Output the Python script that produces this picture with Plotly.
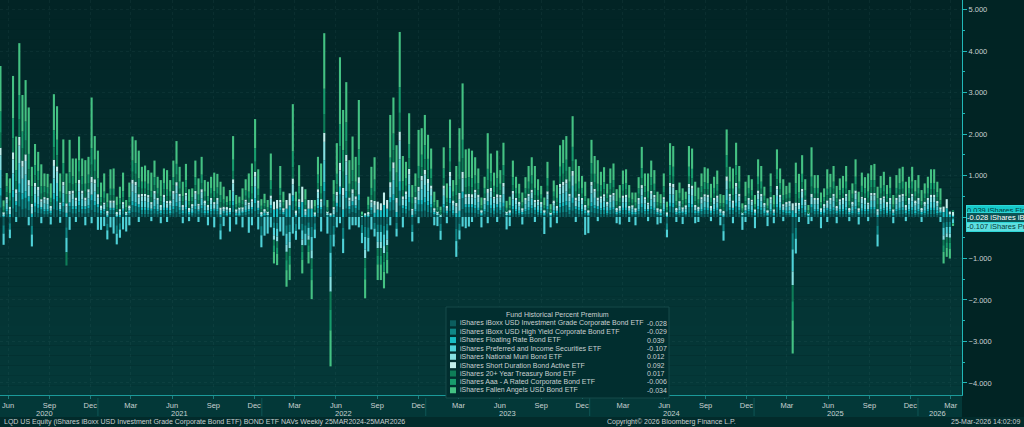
import pandas as pd
import plotly.graph_objects as go

# Weekly fund premium to NAV, hundredths of a percent
# (one value per week, first week 29-May-2020, last week 20-Mar-2026)
LQD = [22,-20,6,-15,20,12,25,18,20,16, -21,11,9,8,6,6,5,18,16,6, 11,-25,11,8,8,12,8,8,9,17,
       12,10,5,6,-16,7,7,-20,-15,6, 2,5,12,11,10,7,7,7,6,8, 6,5,7,7,5,8,11,7,5,8,
       4,4,8,6,9,5,5,6,6,6, -16,4,3,4,12,3,3,4,5,6, 8,14,7,-22,3,2,9,-13,-14,7,
       4,-20,-18,16,-17,8,-16,-20,-13,-24, -15,9,8,27,2,-43,-21,11,23,-26, 20,8,12,9,17,-19,-24,-25,7,-14,
       -18,-18,-21,-16,15,17,-14,27,9,8, 15,-18,6,13,13,15,12,10,4,2, -16,10,5,14,5,-29,-16,19,10,10,
       10,9,7,3,6,12,9,6,10,7, 11,2,3,8,6,5,4,6,7,9, 7,5,5,3,8,2,5,5,10,11,
       12,7,15,8,7,6,5,3,11,9, 8,7,7,5,7,8,4,5,7,7, 5,4,4,6,10,6,6,8,7,4,
       3,6,-15,11,10,4,5,4,4,10, 10,5,4,6,7,7,5,6,7,3, -17,13,7,7,11,7,2,5,6,5,
       3,8,7,4,3,6,3,10,7,5, 5,5,-39,-26,6,9,5,2,10,6, 6,4,4,7,6,7,5,6,6,7,
       4,5,8,4,6,6,6,8,8,-21, 6,7,5,6,3,6,7,7,5,6, 7,5,6,4,5,6,7,7,5,4, -13,-12,-12,-2.8]
HYG = [29,-20,8,-15,27,16,34,24,26,21, -21,14,13,10,8,8,6,24,21,8, 15,-25,15,11,11,16,11,11,12,23,
       16,13,7,8,-16,9,9,-20,-15,9, 3,7,16,15,13,10,10,9,9,11, 8,7,9,9,7,11,15,10,7,10,
       5,6,11,7,12,7,7,8,9,8, -16,6,4,5,16,4,4,6,7,8, 10,19,9,-22,4,3,12,-13,-14,10,
       5,-20,-18,22,-16,10,-16,-20,-13,-24, -15,12,10,35,3,-43,-21,14,31,-26, 26,11,16,12,23,-19,-24,-25,10,-14,
       -18,-18,-21,-16,20,23,-14,36,12,11, 20,-18,8,17,17,20,16,13,5,3, -17,13,6,19,7,-29,-16,26,13,13,
       13,12,9,4,8,16,12,9,13,9, 14,3,4,11,8,6,5,8,10,12, 10,7,6,4,11,2,7,6,14,15,
       16,10,19,11,10,8,7,4,15,12, 11,9,10,6,9,10,5,6,9,9, 6,5,5,8,14,8,8,11,9,5,
       4,8,-15,14,14,5,7,6,5,14, 13,7,6,8,10,9,6,8,9,4, -17,17,10,9,14,10,3,7,8,7,
       4,11,10,6,4,8,4,13,9,7, 6,7,-39,-26,8,12,7,2,13,8, 8,5,6,9,8,10,6,7,8,10,
       5,6,11,5,9,8,8,10,10,-21, 8,9,6,8,4,8,9,10,7,8, 10,7,8,5,6,8,9,9,7,6, -13,-12,-12,-2.9]
FLOT = [18,3,5,7,17,10,21,15,16,13, 8,9,8,6,5,5,4,15,13,5, 9,10,9,7,7,10,7,7,7,14,
        10,8,4,5,4,6,6,3,5,5, 2,4,10,9,8,6,6,6,5,7, 5,4,6,6,4,7,9,6,4,6,
        3,3,7,5,7,4,4,5,5,5, 6,4,3,3,10,3,2,3,5,5, 6,12,6,3,3,2,8,18,20,6,
        3,20,28,14,4,6,36,5,20,20, 3,7,6,22,2,4,6,9,19,18, 16,7,10,7,14,1,4,3,6,10,
        18,16,29,20,12,14,12,22,7,7, 13,5,5,11,11,12,10,8,3,2, 2,8,4,12,4,9,15,16,8,8,
        8,7,6,2,5,10,8,5,8,6, 9,2,2,7,5,4,3,5,6,7, 6,5,4,2,7,2,4,4,9,9,
        10,6,12,7,6,5,4,2,9,7, 7,5,6,4,6,6,3,4,6,6, 4,3,3,5,8,5,5,7,6,3,
        3,5,3,9,9,3,4,3,3,9, 8,4,4,5,6,6,4,5,6,3, 4,11,6,6,9,6,2,4,5,5,
        3,7,6,4,2,5,3,8,6,5, 4,4,16,9,5,7,5,1,8,5, 5,3,3,6,5,6,4,5,5,6,
        3,4,7,3,5,5,5,6,6,5, 5,5,4,5,3,5,6,6,4,5, 6,4,5,3,4,5,6,6,4,3, 12,21,6,3.9]
PFF = [44,-27,13,-21,41,-12,50,35,40,-20, -29,21,19,-15,13,12,-18,36,32,-14, 22,-35,-31,17,-12,23,17,-20,17,-15,
       23,-31,-31,-22,-22,-25,-40,-26,-20,-30, -35,-20,23,22,-12,15,15,14,-10,16, 12,-15,14,-12,11,16,22,15,-15,15,
       -10,8,16,-12,17,11,-20,12,-25,12, -22,-22,6,-35,23,-18,6,-25,11,-38, -20,28,-30,-29,-45,-40,-25,-18,-19,-35,
       -45,-27,-24,-40,-22,-30,-22,-28,-18,-32, -21,17,-35,53,-40,-58,-29,-25,-15,-35, 39,-30,-20,-20,-25,-25,-31,-33,-30,-19,
       -24,-24,-28,-22,-20,35,-19,54,-25,16, 30,-23,13,-15,26,30,24,20,-20,-22, -22,20,-15,28,11,-38,-22,-23,-27,-23,
       -12,17,14,-25,12,-15,18,13,-12,14, 21,-30,-22,16,12,10,-18,12,15,17, -12,11,9,-41,16,-25,11,-15,21,22,
       23,15,29,-12,15,12,-43,-39,22,18, -10,13,14,10,14,15,-15,-18,13,14, -12,7,-20,12,20,13,-10,16,14,-18,
       -15,13,-19,21,21,-12,10,-17,7,21, 20,-15,-12,13,14,14,-10,12,13,-20, -23,25,15,-15,21,15,-31,-12,12,11,
       -27,17,15,9,-22,13,-15,20,14,-10, 9,10,-53,-36,-12,18,11,-17,-10,12, 12,-27,8,-12,12,15,-15,11,12,15,
       -10,10,17,-18,13,12,-10,15,15,-29, 12,13,9,12,-15,12,14,15,-10,12, 15,11,12,-12,10,12,14,14,10,-12, -18,-15,-16,-10.7]
MUB = [36,5,11,12,34,19,42,29,33,26, 16,18,16,13,11,10,8,30,27,11, 19,15,19,14,14,19,14,14,15,29,
       20,16,8,11,7,12,12,6,9,11, 4,8,19,19,16,12,12,11,11,14, 10,9,12,11,9,14,18,12,9,13,
       7,7,14,9,15,9,9,10,11,10, 11,7,5,7,20,5,5,7,9,11, 13,24,12,6,6,4,15,-11,-12,12,
       6,-17,-15,27,8,13,-14,9,-11,-20, 5,15,13,44,4,-36,12,18,39,34, 33,14,19,15,28,2,-20,6,12,19,
       -15,-15,-17,-14,25,29,22,45,15,13, 25,10,11,21,21,25,20,17,6,4, 3,17,8,24,9,16,28,32,16,17,
       16,14,12,5,10,20,15,11,16,11, 18,4,5,14,10,8,6,10,12,14, 12,9,8,5,13,3,9,8,17,19,
       20,12,24,14,12,10,9,5,19,15, 14,11,12,8,12,13,7,8,11,12, 8,6,6,10,17,11,11,14,11,6,
       6,11,5,18,17,7,8,7,6,17, 17,9,7,11,12,12,8,10,11,6, 7,21,12,12,18,12,3,9,10,9,
       5,14,12,7,5,11,5,16,12,9, 8,8,-33,17,10,15,9,3,17,10, 10,6,7,12,10,12,8,9,10,12,
       7,8,14,6,11,10,11,13,13,9, 10,11,8,10,5,10,12,12,9,10, 12,9,10,7,8,10,12,12,9,7, -11,-10,-10,1.2]
NEAR = [18,3,5,6,17,10,21,15,16,13, 8,9,8,6,5,5,4,15,13,5, 9,8,9,7,7,10,7,7,7,14,
        10,8,4,5,4,6,6,3,5,5, 2,4,10,9,8,6,6,6,5,7, 5,4,6,6,4,7,9,6,4,6,
        3,3,7,5,7,4,4,5,5,5, 6,4,3,3,10,3,2,3,5,5, 6,12,6,3,3,2,8,19,21,6,
        3,21,29,14,4,6,37,5,21,21, 3,7,6,22,2,5,6,9,19,18, 16,7,10,7,14,1,5,3,6,10,
        19,17,30,21,12,14,12,22,7,7, 13,5,5,11,11,12,10,8,3,2, 2,8,4,12,4,9,15,16,8,8,
        8,7,6,2,5,10,8,5,8,6, 9,2,2,7,5,4,3,5,6,7, 6,5,4,2,7,2,4,4,9,9,
        10,6,12,7,6,5,4,2,9,7, 7,5,6,4,6,6,3,4,6,6, 4,3,3,5,8,5,5,7,6,3,
        3,5,3,9,9,3,4,3,3,9, 8,4,4,5,6,6,4,5,6,3, 4,11,6,6,9,6,2,4,5,5,
        3,7,6,4,2,5,3,8,6,5, 4,4,17,9,5,7,5,1,8,5, 5,3,3,6,5,6,4,5,5,6,
        3,4,7,3,5,5,5,6,6,5, 5,5,4,5,3,5,6,6,4,5, 6,4,5,3,4,5,6,6,4,3, 13,22,7,9.2]
TLT = [36,6,11,14,34,19,42,29,33,26, 18,18,16,13,11,10,8,30,27,11, 19,-32,19,14,14,19,14,14,15,29,
       20,16,8,11,9,12,12,7,11,11, 4,8,19,19,16,12,12,11,11,14, 10,9,12,11,9,14,18,12,9,13,
       7,7,14,9,15,9,9,10,11,10, 13,7,5,7,20,5,5,7,9,11, 13,24,12,6,6,4,15,-13,-14,12,
       6,-20,-18,27,9,13,-16,10,-13,-24, 6,15,13,44,4,-43,13,18,39,39, 33,14,19,15,28,2,-24,7,12,22,
       -18,-18,-21,-16,25,29,26,45,15,13, 25,12,11,21,21,25,20,17,6,4, 4,17,8,24,9,18,32,32,16,17,
       16,14,12,5,10,20,15,11,16,11, 18,4,5,14,10,8,6,10,12,14, 12,9,8,5,13,3,9,8,17,19,
       20,12,24,14,12,10,9,5,19,15, 14,11,12,8,12,13,7,8,11,12, 8,6,6,10,17,11,11,14,11,6,
       6,11,5,18,17,7,8,7,6,17, 17,9,7,11,12,12,8,10,11,6, 8,21,12,12,18,12,3,9,10,9,
       5,14,12,7,5,11,5,16,12,9, 8,8,-39,20,10,15,9,3,17,10, 10,6,7,12,10,12,8,9,10,12,
       7,8,14,6,11,10,11,13,13,11, 10,11,8,10,5,10,12,12,9,10, 12,9,10,7,8,10,12,12,9,7, -13,-12,-12,1.7]
QLTA = [51,8,15,19,48,27,59,41,46,37, 24,25,22,18,15,15,11,41,37,15, 26,22,26,20,20,27,20,19,20,40,
        27,22,12,15,11,16,16,10,15,15, 6,12,27,26,22,17,17,16,15,19, 14,12,16,16,12,19,26,17,12,18,
        9,10,19,13,20,12,12,14,15,15, 17,10,7,9,27,7,7,10,13,15, 18,33,16,9,8,6,21,-16,-16,17,
        9,-24,-21,38,12,18,-19,13,-16,-28, 8,20,18,62,6,-50,18,25,54,52, 45,19,27,20,39,3,-27,10,17,29,
        -21,-21,-24,-19,34,40,35,62,21,19, 35,15,15,29,30,34,28,23,9,6, 5,24,11,33,12,25,43,45,23,23,
        22,20,16,7,14,28,21,15,22,16, 25,5,7,19,14,11,8,13,17,20, 17,13,10,7,19,4,12,11,24,26,
        27,17,34,19,17,14,12,6,26,21, 19,15,17,11,16,18,9,11,16,16, 11,8,8,13,24,15,15,19,16,9,
        8,15,7,25,24,9,12,10,9,24, 23,12,10,15,17,16,11,14,16,8, 10,30,17,16,25,17,5,12,14,13,
        7,19,17,10,6,15,7,23,16,13, 10,12,-46,26,15,21,13,4,24,14, 14,8,10,16,15,17,10,13,14,17,
        9,11,19,9,15,13,15,18,18,15, 14,15,11,14,7,14,16,17,12,14, 17,12,14,9,11,14,16,16,12,10, -16,-13,-14,-0.6]
ANGL = [110,15,32,35,102,81,125,88,100,112, 47,51,46,53,31,33,35,87,81,44, 57,50,78,43,60,58,43,57,43,122,
        57,67,35,44,22,47,49,20,28,45, 18,35,58,55,67,36,39,33,45,40, 27,39,35,47,28,40,55,36,35,39,
        29,21,40,39,43,28,35,27,45,33, 32,31,14,27,57,23,15,29,27,44, 55,70,47,16,23,18,65,-28,-27,53,
        25,-40,-38,114,24,51,-33,25,-28,-46, 16,43,55,134,18,-87,34,74,161,97, 97,57,81,60,119,4,-46,20,51,54,
        -38,-38,-40,-33,103,87,66,133,61,39, 74,30,31,87,64,73,58,49,25,18, 9,51,35,69,28,46,81,136,69,69,
        67,44,35,19,27,86,47,32,67,33, 54,17,21,40,27,24,24,27,38,44, 53,27,21,19,39,13,27,31,52,56,
        57,36,74,59,38,29,35,18,56,43, 57,33,36,24,35,40,29,31,33,33, 31,17,24,27,51,31,44,40,33,25,
        22,31,14,53,50,27,25,29,18,50, 49,35,29,31,36,35,34,27,33,22, 20,62,36,49,54,38,13,35,31,27,
        23,42,38,22,18,31,23,49,35,38, 21,25,-80,50,45,45,27,13,71,31, 31,24,21,47,33,38,30,28,29,38,
        27,25,42,25,32,27,44,36,39,28, 29,33,22,27,23,31,35,36,35,27, 36,28,31,27,25,27,33,33,25,29, -28,-22,-24,-3.4]

FUND_NAMES = [
    "iShares iBoxx USD Investment Grade Corporate Bond ETF",
    "iShares iBoxx USD High Yield Corporate Bond ETF",
    "iShares Floating Rate Bond ETF",
    "iShares Preferred and Income Securities ETF",
    "iShares National Muni Bond ETF",
    "iShares Short Duration Bond Active ETF",
    "iShares 20+ Year Treasury Bond ETF",
    "iShares Aaa - A Rated Corporate Bond ETF",
    "iShares Fallen Angels USD Bond ETF",
]
LAST_VALUES = [-0.028, -0.029, 0.039, -0.107, 0.012, 0.092, 0.017, -0.006, -0.034]
SERIES = [LQD, HYG, FLOT, PFF, MUB, NEAR, TLT, QLTA, ANGL]
COLORS = ["#0b5d5e", "#0f8686", "#18bcc2", "#4fd2d8", "#86e0e2",
          "#c2efec", "#0e7d58", "#179c6c", "#44c283"]

weeks = pd.date_range("2020-05-29", periods=len(LQD), freq="7D")

W, H = 1024, 427
PL, PR, PT, PB = 0, 962, 0, 395        # plot area in pixels
FONT = "Liberation Sans Narrow, Liberation Sans, Arial, sans-serif"
FS = 7
TXT = "#c9d1d1"

def px(x):
    return (x - PL) / (PR - PL)

def py(y):
    return (PB - y) / (PB - PT)

def note(x, y, text, size=FS, xanchor="left", color=TXT, **kw):
    d = dict(x=x, y=y, text=text, showarrow=False, xanchor=xanchor, yanchor="middle",
             font=dict(size=size, color=color))
    d.setdefault("xref", "paper")
    d.setdefault("yref", "paper")
    d.update(kw)
    return d

fig = go.Figure()
for name, vals, col in zip(FUND_NAMES, SERIES, COLORS):
    fig.add_trace(go.Bar(x=weeks, y=[v / 100 for v in vals], name=name,
                         marker=dict(color=col, line=dict(width=0))))

shapes = []
# dark teal gradient behind the plot
n_bands = 40
top, bot = (2, 36, 37), (4, 57, 57)
for i in range(n_bands):
    t = i / (n_bands - 1)
    c = tuple(round(top[k] + (bot[k] - top[k]) * t) for k in range(3))
    shapes.append(dict(type="rect", xref="paper", yref="paper", layer="below",
                       x0=0, x1=1, y0=1 - (i + 1) / n_bands, y1=1 - i / n_bands,
                       fillcolor="rgb(%d,%d,%d)" % c, line=dict(width=0)))
# area under the time axis and footer strip
shapes.append(dict(type="rect", xref="paper", yref="paper", layer="below",
                   x0=0, x1=1, y0=py(427), y1=0, fillcolor="#033838", line=dict(width=0)))
shapes.append(dict(type="rect", xref="paper", yref="paper", layer="below",
                   x0=0, x1=px(W), y0=py(427), y1=py(417), fillcolor="#022b2b", line=dict(width=0)))
# year separators on the time axis
for yr in range(2021, 2027):
    shapes.append(dict(type="line", xref="x", yref="paper", x0=f"{yr}-01-01", x1=f"{yr}-01-01",
                       y0=py(416), y1=py(398), line=dict(color="#0f5656", width=1)))

annotations = []
# year labels under the month labels
YEAR_LABELS = ["2020", "2021", "2022", "2023", "2024", "2025", "2026"]
YEAR_POS = ["2020-09-05", "2021-07-01", "2022-07-01", "2023-07-01",
            "2024-07-01", "2025-07-01", "2026-02-14"]
for lab, pos in zip(YEAR_LABELS, YEAR_POS):
    annotations.append(note(pos, py(413), lab, size=FS + 0.5, xanchor="center", xref="x"))

# footer
annotations += [
    note(px(2), py(422), "LQD US Equity (iShares iBoxx USD Investment Grade Corporate Bond ETF) "
                         "BOND ETF NAVs Weekly 25MAR2024-25MAR2026"),
    note(px(605), py(422), "Copyright© 2026 Bloomberg Finance L.P."),
    note(px(1022), py(422), "25-Mar-2026 14:02:09", xanchor="right"),
]

# legend box drawn by hand (name column + last value column)
shapes.append(dict(type="rect", xref="paper", yref="paper", layer="above",
                   x0=px(446), x1=px(669), y0=py(398), y1=py(307),
                   fillcolor="#012e2f", line=dict(color="#174a4a", width=1)))
annotations.append(note(px(557), py(314), "Fund Historical Percent Premium", xanchor="center"))
for i, (name, val, col) in enumerate(zip(FUND_NAMES, LAST_VALUES, COLORS)):
    yc = 323.3 + i * 8.37
    shapes.append(dict(type="rect", xref="paper", yref="paper", layer="above",
                       x0=px(450), x1=px(456), y0=py(yc + 3), y1=py(yc - 3),
                       fillcolor=col, line=dict(width=0)))
    annotations.append(note(px(458), py(yc), name))
    annotations.append(note(px(645), py(yc), f"{val:.3f}"))

# last-value tags on the right axis (the middle one sits on top)
TAGS = [(2, 0.16, "#16c9cb", "#053c3c"), (3, -0.22, "#5fdfe0", "#053c3c"),
        (0, -0.02, "#0b5455", "#ffffff")]
for idx, ypos, bg, fc in TAGS:
    annotations.append(note(px(966), ypos, f"{LAST_VALUES[idx]:.3f} {FUND_NAMES[idx]}",
                            size=FS + 0.5, color=fc, yref="y", bgcolor=bg,
                            bordercolor="#2fd6d6", borderwidth=1, borderpad=0))

month_ticks = pd.date_range("2020-06-01", "2026-03-01", freq="3MS") + pd.Timedelta(days=14)

fig.update_layout(
    width=W, height=H, barmode="relative", bargap=0.33, showlegend=False,
    margin=dict(l=PL, r=W - PR, t=PT, b=H - PB, autoexpand=False),
    paper_bgcolor="#012424", plot_bgcolor="rgba(0,0,0,0)",
    font=dict(family=FONT, size=FS, color=TXT),
    shapes=shapes, annotations=annotations,
    xaxis=dict(type="date", range=["2020-05-28", "2026-04-09"],
               tickvals=list(month_ticks), ticktext=[d.strftime("%b") for d in month_ticks],
               ticks="outside", ticklen=3, tickcolor="#1d7c7c",
               tickfont=dict(size=FS + 0.5, color=TXT),
               showline=True, linecolor="#1b9a9a", linewidth=1,
               showgrid=True, gridcolor="rgba(150,200,200,0.06)", griddash="dot",
               zeroline=False, fixedrange=True),
    yaxis=dict(side="right", range=[-4.29, 5.23], tickvals=list(range(-4, 6)),
               tickformat=".3f", ticks="outside", ticklen=4, tickcolor="#21b8b8",
               minor=dict(dtick=0.5, ticks="outside", ticklen=2, tickcolor="#21b8b8"),
               tickfont=dict(size=FS + 0.5, color=TXT),
               showline=True, linecolor="#21b8b8", linewidth=1,
               showgrid=True, gridcolor="rgba(150,200,200,0.06)", griddash="dot",
               zeroline=False, fixedrange=True),
)

# the page's default body margin would push the figure 8px right and down
fig.write_html("out.html", config={"displayModeBar": False},
               post_script="document.body.style.margin='0';")
